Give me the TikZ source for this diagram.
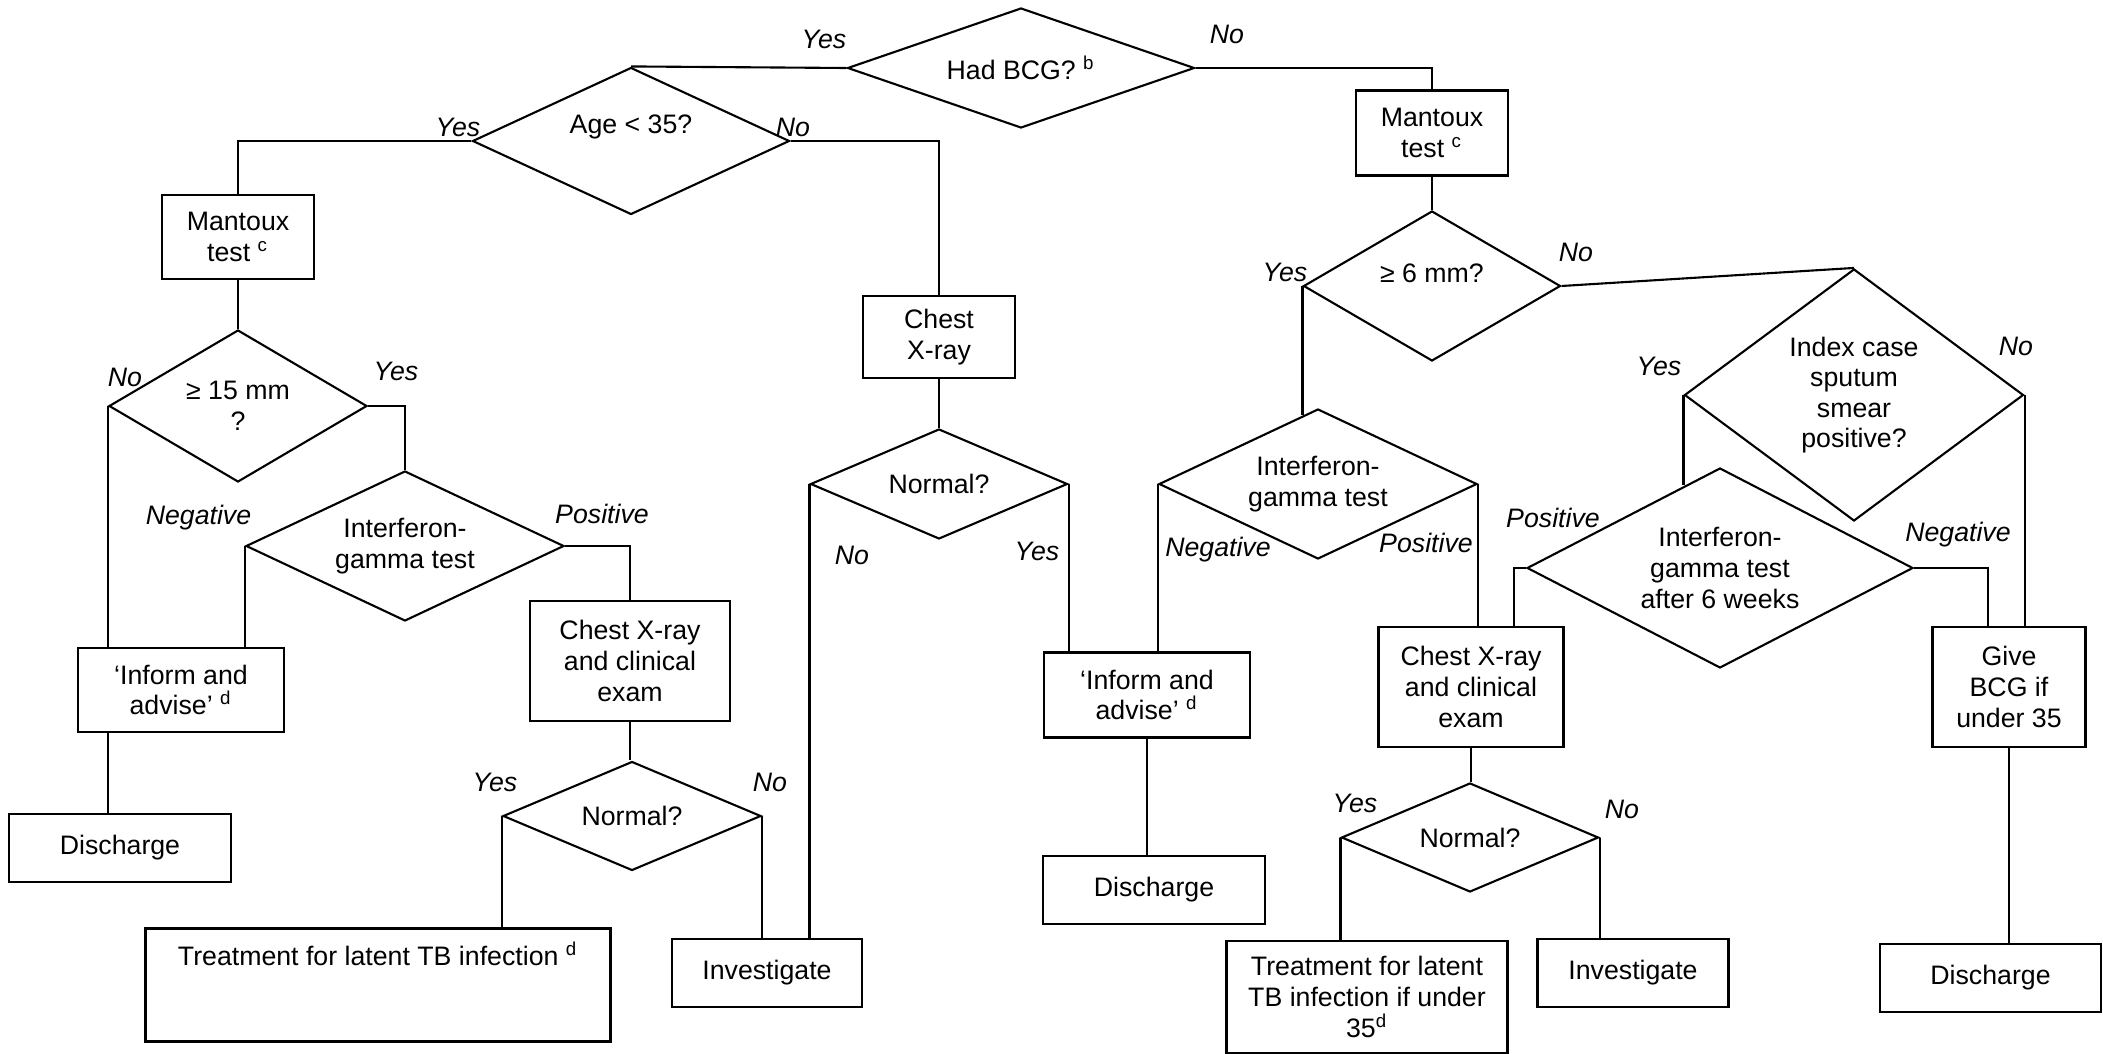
\documentclass[tikz,border=0pt]{standalone}
\usepackage{fontspec}
\setmainfont{Liberation Sans}
\usetikzlibrary{shapes, positioning, calc}

\tikzset{
  box/.style={draw, rectangle, line width=0.6pt, align=center, inner sep=1pt},
  decision/.style={draw, diamond, line width=0.6pt, align=center, inner sep=0pt},
  answer/.style={font=\fontsize{7.6}{8.7}\selectfont\itshape, inner sep=1pt},
  link/.style={line width=0.6pt}
}

\begin{document}
\begin{tikzpicture}[font=\fontsize{7.6}{8.7}\selectfont]
\useasboundingbox (0,0) rectangle (21.03,-10.54);

% decisions
\node[decision, minimum width=3.47cm, minimum height=1.20cm, aspect=2.89] (bcg) at (10.21,-0.68) {Had BCG? \textsuperscript{b}};
\node[decision, minimum width=3.17cm, minimum height=1.47cm, aspect=2.16, text height=0.19cm, text depth=0.33cm] (age) at (6.31,-1.41) {Age < 35?};
\node[decision, minimum width=2.58cm, minimum height=1.52cm, aspect=1.7] (ge15) at (2.38,-4.06) {≥ 15 mm\\?};
\node[decision, minimum width=3.18cm, minimum height=1.50cm, aspect=2.12] (ifn1) at (4.05,-5.46) {Interferon-\\gamma test};
\node[decision, minimum width=2.58cm, minimum height=1.09cm, aspect=2.37] (nrm1) at (6.32,-8.16) {Normal?};
\node[decision, minimum width=2.57cm, minimum height=1.10cm, aspect=2.34] (nrm2) at (9.39,-4.84) {Normal?};
\node[decision, minimum width=2.57cm, minimum height=1.50cm, aspect=1.71, text height=0.19cm, text depth=0.25cm] (ge6) at (14.32,-2.86) {≥ 6 mm?};
\node[decision, minimum width=3.39cm, minimum height=2.52cm, aspect=1.345] (idx) at (18.54,-3.95) {Index case\\sputum\\smear\\positive?};
\node[decision, minimum width=3.18cm, minimum height=1.50cm, aspect=2.12] (ifn2) at (13.18,-4.84) {Interferon-\\gamma test};
\node[decision, minimum width=3.86cm, minimum height=2.00cm, aspect=1.93] (ifn3) at (17.20,-5.68) {Interferon-\\gamma test\\after 6 weeks};
\node[decision, minimum width=2.57cm, minimum height=1.09cm, aspect=2.36] (nrm3) at (14.70,-8.375) {Normal?};

% boxes
\node[box, minimum width=1.52cm, minimum height=0.84cm] (mtx1) at (2.38,-2.37) {Mantoux\\test \textsuperscript{c}};
\node[box, minimum width=2.06cm, minimum height=0.84cm] (inf1) at (1.81,-6.90) {‘Inform and\\advise’ \textsuperscript{d}};
\node[box, minimum width=2.22cm, minimum height=0.68cm] (dis1) at (1.20,-8.48) {Discharge};
\node[box, minimum width=2.00cm, minimum height=1.20cm] (chx2) at (6.30,-6.61) {Chest X-ray\\and clinical\\exam};
\node[box, minimum width=4.65cm, minimum height=1.13cm, text height=0.25cm, text depth=0.64cm] (trt1) at (3.78,-9.85) {Treatment for latent TB infection \textsuperscript{d}};
\node[box, minimum width=1.90cm, minimum height=0.68cm] (inv1) at (7.67,-9.73) {Investigate};
\node[box, minimum width=1.52cm, minimum height=0.82cm] (chx1) at (9.39,-3.37) {Chest\\X-ray};
\node[box, minimum width=1.52cm, minimum height=0.85cm] (mtx2) at (14.32,-1.33) {Mantoux\\test \textsuperscript{c}};
\node[box, minimum width=2.06cm, minimum height=0.85cm] (inf2) at (11.47,-6.95) {‘Inform and\\advise’ \textsuperscript{d}};
\node[box, minimum width=2.22cm, minimum height=0.68cm] (dis2) at (11.54,-8.90) {Discharge};
\node[box, minimum width=1.85cm, minimum height=1.20cm] (chx3) at (14.71,-6.87) {Chest X-ray\\and clinical\\exam};
\node[box, minimum width=1.53cm, minimum height=1.20cm] (gbcg) at (20.09,-6.87) {Give\\BCG if\\under 35};
\node[box, minimum width=2.81cm, minimum height=1.12cm] (trt2) at (13.67,-9.97) {Treatment for latent\\TB infection if under\\35\textsuperscript{d}};
\node[box, minimum width=1.91cm, minimum height=0.68cm] (inv2) at (16.33,-9.73) {Investigate};
\node[box, minimum width=2.21cm, minimum height=0.68cm] (dis3) at (19.905,-9.78) {Discharge};

% answers
\foreach \n/\x/\y/\t in {a1/8.24/-0.39/Yes, a2/12.27/-0.34/No, a3/4.58/-1.27/Yes, a4/7.93/-1.275/No,
  a5/1.25/-3.77/No, a6/3.96/-3.715/Yes, a7/1.985/-5.18/Negative, a8/6.02/-5.14/Positive,
  a9/4.95/-7.82/Yes, a10/7.70/-7.82/No, a11/8.52/-5.55/No, a12/10.37/-5.51/Yes,
  a13/12.85/-2.72/Yes, a14/15.76/-2.52/No, a15/16.59/-3.66/Yes, a16/20.16/-3.46/No,
  a17/12.18/-5.50/Negative, a18/14.26/-5.43/Positive, a19/15.53/-5.18/Positive, a20/19.58/-5.35/Negative,
  a21/13.55/-8.03/Yes, a22/16.22/-8.09/No}
  \node[answer] (\n) at (\x,\y) {\t};

% connectors
\draw[link] (age.north) -- (bcg.west);
\draw[link] (bcg.east) -| (mtx2.north);
\draw[link] (age.west) -| (mtx1.north);
\draw[link] (age.east) -| (chx1.north);
\draw[link] (mtx1.south) -- (ge15.north);
\draw[link] (ge15.east) -| (ifn1.north);
\draw[link] (ifn1.east) -| (chx2.north);
\draw[link] (inf1.south -| ge15.west) -- (dis1.north -| ge15.west);
\draw[link] (chx2.south) -- (chx2.south |- nrm1.north);
\draw[link] (chx1.south) -- (chx1.south |- nrm2.north);
\draw[link] (mtx2.south) -- (ge6.north);
\draw[link] (ge6.east) -- (idx.north);
\coordinate (ifn2top) at ($(ifn2.north)!0.09!(ifn2.west)$);
\draw[link] (ge6.west) -- (ge6.west |- ifn2top);
\draw[link] (inf2.south) -- (inf2.south |- dis2.north);
\coordinate (ifn3top) at ($(ifn3.north)!0.18!(ifn3.west)$);
\draw[link] (idx.west) -- (idx.west |- ifn3top);
\draw[link] (ifn3.west) -- ++(-0.12,0) coordinate (ifn3l) -- (ifn3l |- chx3.north);
\draw[link] (ifn3.east) -- ++(0.74,0) coordinate (ifn3r) -- (ifn3r |- gbcg.north);
\draw[link] (gbcg.south) -- (gbcg.south |- dis3.north);
\draw[link] (chx3.south) -- (chx3.south |- nrm3.north);
\foreach \a/\s/\b in {ge15/west/inf1, ifn1/west/inf1, nrm1/west/trt1, nrm1/east/inv1,
  nrm2/west/inv1, nrm2/east/inf2, ifn2/west/inf2, ifn2/east/chx3,
  nrm3/west/trt2, nrm3/east/inv2, idx/east/gbcg}
  \draw[link] (\a.\s) -- (\a.\s |- \b.north);
\end{tikzpicture}
\end{document}
